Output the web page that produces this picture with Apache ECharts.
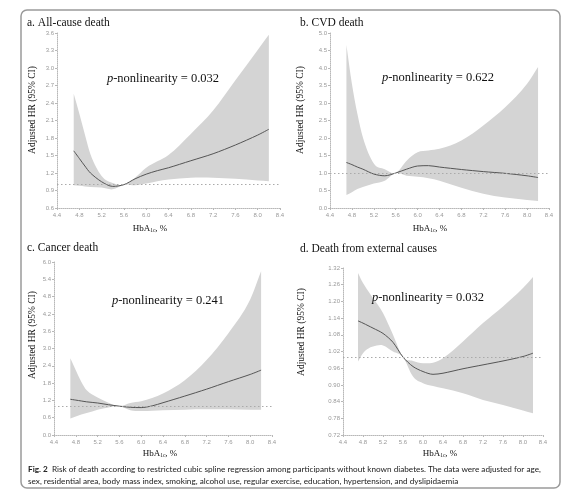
<!DOCTYPE html>
<html>
<head>
<meta charset="utf-8">
<script src="https://cdn.jsdelivr.net/npm/echarts@6/dist/echarts.min.js"></script>
<style>html,body{margin:0;padding:0;background:#fff}#c{width:577px;height:500px}</style>
</head>
<body>
<div id="c"></div>
<script>
// HbA1c grid (%)
const hba1c = [4.7, 4.8, 4.9, 5.0, 5.2, 5.4, 5.6, 5.8, 6.0, 6.2, 6.4, 6.8, 7.2, 7.6, 8.0, 8.2];

// a. All-cause death
const aHR    = [1.58, 1.45, 1.32, 1.20, 1.05, 0.97, 1.00, 1.10, 1.18, 1.24, 1.29, 1.41, 1.53, 1.68, 1.85, 1.95];
const aUpper = [2.56, 2.22, 1.86, 1.52, 1.15, 1.03, 1.00, 1.12, 1.29, 1.40, 1.51, 1.87, 2.27, 2.79, 3.31, 3.57];
const aLower = [0.99, 0.98, 0.97, 0.96, 0.95, 0.92, 1.00, 0.99, 1.02, 1.06, 1.09, 1.12, 1.12, 1.10, 1.07, 1.06];

// b. CVD death
const bHR    = [1.30, 1.24, 1.17, 1.11, 0.97, 0.92, 1.00, 1.11, 1.20, 1.21, 1.17, 1.10, 1.04, 0.99, 0.92, 0.87];
const bUpper = [4.66, 3.55, 2.69, 2.02, 1.27, 1.11, 1.00, 1.35, 1.59, 1.64, 1.69, 1.93, 2.36, 2.88, 3.55, 4.03];
const bLower = [0.37, 0.45, 0.54, 0.60, 0.70, 0.78, 1.00, 0.92, 0.89, 0.85, 0.78, 0.58, 0.41, 0.30, 0.23, 0.20];

// c. Cancer death
const cHR    = [1.24, 1.21, 1.18, 1.15, 1.11, 1.05, 1.00, 0.96, 0.95, 1.01, 1.12, 1.35, 1.59, 1.85, 2.10, 2.25];
const cUpper = [2.66, 2.25, 1.85, 1.55, 1.30, 1.12, 1.00, 1.11, 1.17, 1.28, 1.44, 1.90, 2.60, 3.53, 4.70, 5.68];
const cLower = [0.57, 0.64, 0.71, 0.76, 0.88, 0.95, 1.00, 0.86, 0.83, 0.84, 0.86, 0.88, 0.89, 0.89, 0.88, 0.88];

// d. Death from external causes
const dHR    = [1.130, 1.122, 1.113, 1.104, 1.085, 1.053, 1.000, 0.966, 0.948, 0.938, 0.942, 0.958, 0.972, 0.986, 1.002, 1.014];
const dUpper = [1.302, 1.266, 1.238, 1.212, 1.158, 1.080, 1.000, 0.986, 0.978, 0.980, 0.996, 1.056, 1.122, 1.182, 1.248, 1.288];
const dLower = [0.984, 1.014, 1.030, 1.038, 1.042, 1.020, 1.000, 0.930, 0.906, 0.896, 0.888, 0.870, 0.846, 0.828, 0.808, 0.798];

// axes
const xTicks = {min: 4.4, max: 8.4, interval: 0.4};
const yAxesDef = [
  {min: 0.6, max: 3.6, interval: 0.3, dec: 1},
  {min: 0.0, max: 5.0, interval: 0.5, dec: 1},
  {min: 0.0, max: 6.0, interval: 0.6, dec: 1},
  {min: 0.72, max: 1.32, interval: 0.06, dec: 2}
];

const titles = ['a. All-cause death', 'b. CVD death', 'c. Cancer death', 'd. Death from external causes'];
const pValues = ['0.032', '0.622', '0.241', '0.032'];
const yName = 'Adjusted HR (95% CI)';
const captionBold = 'Fig. 2';
const captionLine1 = 'Risk of death according to restricted cubic spline regression among participants without known diabetes. The data were adjusted for age,';
const captionLine2 = 'sex, residential area, body mass index, smoking, alcohol use, regular exercise, education, hypertension, and dyslipidaemia';

const panels = [
  {hr: aHR, up: aUpper, lo: aLower},
  {hr: bHR, up: bUpper, lo: bLower},
  {hr: cHR, up: cUpper, lo: cLower},
  {hr: dHR, up: dUpper, lo: dLower}
];

// layout
const grids = [
  {left: 57, top: 33, width: 223, height: 175},
  {left: 330, top: 33, width: 219, height: 175},
  {left: 54, top: 262, width: 218, height: 173},
  {left: 343, top: 268, width: 200, height: 167}
];
const titlePos = [[27, 25], [300, 25], [27, 250], [300, 251]];
const pPos = [[163, 79], [438, 78], [168, 301], [428, 298]];
const yNamePos = [[32, 110], [300, 110], [32, 335], [301, 332]];
const xNamePos = [[150, 229], [430, 229], [160, 454], [440, 454]];

const serif = '"Liberation Serif", "Times New Roman", serif';
const axisCol = '#b8b8b8';

// smooth path through pixel points (cubic Hermite in x)
function smoothSeg(pts, startWithMove) {
  const n = pts.length;
  const m = pts.map((p, i) => {
    if (i === 0) return (pts[1][1] - p[1]) / (pts[1][0] - p[0]);
    if (i === n - 1) return (p[1] - pts[i - 1][1]) / (p[0] - pts[i - 1][0]);
    const s1 = (p[1] - pts[i - 1][1]) / (p[0] - pts[i - 1][0]);
    const s2 = (pts[i + 1][1] - p[1]) / (pts[i + 1][0] - p[0]);
    return (s1 + s2) / 2;
  });
  let d = (startWithMove ? 'M' : 'L') + pts[0][0] + ' ' + pts[0][1];
  for (let i = 0; i < n - 1; i++) {
    const dx = (pts[i + 1][0] - pts[i][0]) / 3;
    d += ' C' + (pts[i][0] + dx) + ' ' + (pts[i][1] + m[i] * dx) + ' ' +
         (pts[i + 1][0] - dx) + ' ' + (pts[i + 1][1] - m[i + 1] * dx) + ' ' +
         pts[i + 1][0] + ' ' + pts[i + 1][1];
  }
  return d;
}

const xAxis = [], yAxis = [], series = [], graphic = [];
panels.forEach((p, i) => {
  xAxis.push({
    type: 'value', gridIndex: i, min: xTicks.min, max: xTicks.max, interval: xTicks.interval,
    splitLine: {show: false},
    axisLine: {show: true, lineStyle: {color: axisCol, type: 'dotted', width: 1}},
    axisTick: {show: true, length: 2, lineStyle: {color: axisCol}},
    axisLabel: {fontSize: 6, color: '#999', margin: 4, fontFamily: 'Arial', formatter: v => v.toFixed(1)}
  });
  const yd = yAxesDef[i];
  yAxis.push({
    type: 'value', gridIndex: i, min: yd.min, max: yd.max, interval: yd.interval,
    splitLine: {show: false},
    axisLine: {show: true, lineStyle: {color: axisCol, type: 'dotted', width: 1}},
    axisTick: {show: true, length: 2, lineStyle: {color: axisCol}},
    axisLabel: {fontSize: 6, color: '#999', margin: 3, fontFamily: 'Arial', formatter: v => v.toFixed(yd.dec)}
  });
  // 95% CI band
  series.push({
    type: 'custom', xAxisIndex: i, yAxisIndex: i, silent: true, z: 1,
    data: [[hba1c[0], p.lo[0]]],
    renderItem: function (params, api) {
      const upPts = hba1c.map((x, k) => api.coord([x, p.up[k]]));
      const loPts = hba1c.map((x, k) => api.coord([x, p.lo[k]])).reverse();
      const d = smoothSeg(upPts, true) + ' ' + smoothSeg(loPts, false) + ' Z';
      return {type: 'path', shape: {pathData: d}, style: {fill: '#d4d4d4', stroke: null}};
    }
  });
  // HR curve + reference line
  series.push({
    type: 'line', xAxisIndex: i, yAxisIndex: i, smooth: 0.3, symbol: 'none',
    lineStyle: {color: '#555', width: 1}, data: hba1c.map((x, k) => [x, p.hr[k]]), z: 4,
    markLine: {
      silent: true, symbol: 'none', label: {show: false},
      lineStyle: {color: '#aaa', type: [1.5, 2.5], width: 1},
      data: [{yAxis: 1}]
    }
  });

  graphic.push({
    type: 'text', left: titlePos[i][0], top: titlePos[i][1] - 8, z: 100,
    style: {text: titles[i], font: '11.5px ' + serif, fill: '#111'}
  });
  graphic.push({
    type: 'text', x: pPos[i][0], y: pPos[i][1], z: 100,
    style: {
      text: '{i|p}{n|-nonlinearity = ' + pValues[i] + '}',
      align: 'center', verticalAlign: 'middle',
      rich: {
        i: {fontFamily: serif, fontSize: 12.5, fontStyle: 'italic', fill: '#111'},
        n: {fontFamily: serif, fontSize: 12.5, fill: '#111'}
      }
    }
  });
  graphic.push({
    type: 'text', x: yNamePos[i][0], y: yNamePos[i][1], rotation: Math.PI / 2, z: 100,
    style: {text: yName, font: '9.5px ' + serif, fill: '#111', align: 'center', verticalAlign: 'middle'}
  });
  graphic.push({
    type: 'text', x: xNamePos[i][0], y: xNamePos[i][1], z: 100,
    style: {
      text: '{a|HbA}{s|1c}{a|, %}', align: 'center', verticalAlign: 'middle',
      rich: {
        a: {fontFamily: serif, fontSize: 9, fill: '#111', lineHeight: 12},
        s: {fontFamily: serif, fontSize: 5.5, fill: '#111', lineHeight: 12, padding: [4, 0, 0, 0]}
      }
    }
  });
});

// frame
graphic.push({
  type: 'rect', shape: {x: 21, y: 10, width: 539, height: 478, r: 6},
  style: {fill: 'none', stroke: '#9a9a9a', lineWidth: 1.5}, z: 100
});
// caption
graphic.push({
  type: 'text', x: 28, y: 469, z: 100,
  style: {
    text: '{b|' + captionBold + '}{n|  ' + captionLine1 + '}',
    verticalAlign: 'middle',
    rich: {
      b: {fontFamily: 'Lato', fontSize: 8.2, fontWeight: 'bold', fill: '#1a1a1a'},
      n: {fontFamily: 'Lato', fontSize: 8.2, fill: '#1a1a1a'}
    }
  }
});
graphic.push({
  type: 'text', x: 28, y: 481, z: 100,
  style: {text: captionLine2, verticalAlign: 'middle', font: '8.2px Lato', fill: '#1a1a1a'}
});

const chart = echarts.init(document.getElementById('c'), null, {renderer: 'canvas'});
chart.setOption({
  animation: false,
  backgroundColor: '#fff',
  grid: grids,
  xAxis: xAxis,
  yAxis: yAxis,
  series: series,
  graphic: graphic
});
</script>
</body>
</html>
